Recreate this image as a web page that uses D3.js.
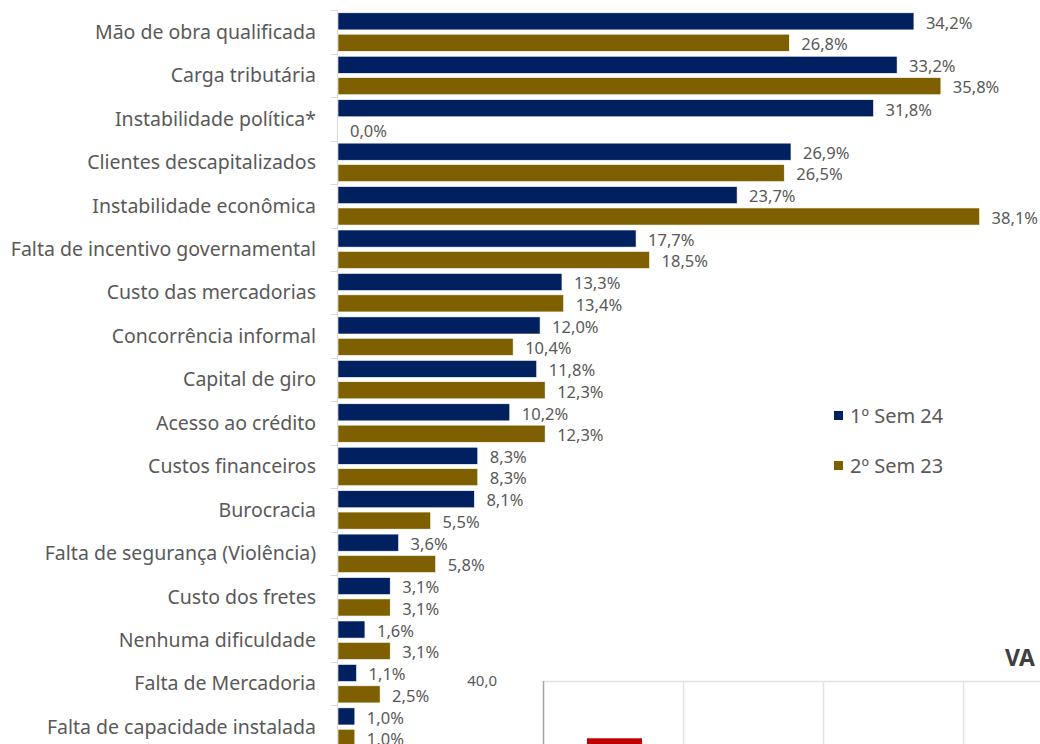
<!DOCTYPE html>
<html>
<head>
<meta charset="utf-8">
<script src="https://cdn.jsdelivr.net/npm/d3@7"></script>
<style>
  body { margin: 0; background: #fff; }
  svg { display: block; font-family: "Noto Sans", sans-serif; }
</style>
</head>
<body>
<svg id="chart" width="1040" height="744"></svg>
<script>
// categorias e series (pesquisa, % de respostas)
const categories = [
  "Mão de obra qualificada", "Carga tributária", "Instabilidade política*",
  "Clientes descapitalizados", "Instabilidade econômica", "Falta de incentivo governamental",
  "Custo das mercadorias", "Concorrência informal", "Capital de giro", "Acesso ao crédito",
  "Custos financeiros", "Burocracia", "Falta de segurança (Violência)", "Custo dos fretes",
  "Nenhuma dificuldade", "Falta de Mercadoria", "Falta de capacidade instalada"
];
const sem1_24 = [34.2, 33.2, 31.8, 26.9, 23.7, 17.7, 13.3, 12.0, 11.8, 10.2, 8.3, 8.1, 3.6, 3.1, 1.6, 1.1, 1.0];
const sem2_23 = [26.8, 35.8, 0.0, 26.5, 38.1, 18.5, 13.4, 10.4, 12.3, 12.3, 8.3, 5.5, 5.8, 3.1, 3.1, 2.5, 1.0];
const seriesNames = ["1º Sem 24", "2º Sem 23"];
const seriesColors = ["#002060", "#7F6000"];

// grafico "VA..." cortado no canto inferior direito
const vaTitle = "VA";
const vaTicks = [40, 30];
const vaCols = ["c1", "c2", "c3", "c4"];
const vaValues = [31.7];

const svg = d3.select("#chart");
const fmt = v => v.toFixed(1).replace(".", ",");

const y = d3.scaleBand().domain(categories).range([10.3, 748.8]);
const ySub = d3.scaleBand().domain([0, 1]).range([2.5, 41]).paddingInner(0.2);
const x = d3.scaleLinear().domain([0, 40]).range([338, 1011.6]);

// eixo vertical com marcas
svg.append("line")
  .attr("x1", 337.5).attr("x2", 337.5)
  .attr("y1", y.range()[0]).attr("y2", y.range()[1])
  .attr("stroke", "#d9d9d9");
svg.selectAll("line.tick")
  .data(d3.range(categories.length + 1))
  .join("line")
  .attr("class", "tick")
  .attr("x1", 331).attr("x2", 337.5)
  .attr("y1", i => Math.round(y.range()[0] + i * y.step()) + 0.5)
  .attr("y2", i => Math.round(y.range()[0] + i * y.step()) + 0.5)
  .attr("stroke", "#d9d9d9");

svg.selectAll("text.cat")
  .data(categories)
  .join("text")
  .attr("class", "cat")
  .attr("x", 316)
  .attr("y", d => y(d) + y.bandwidth() / 2)
  .attr("dy", "0.35em")
  .attr("text-anchor", "end")
  .attr("fill", "#595959")
  .style("font-size", "19.5px")
  .text(d => d);

[sem1_24, sem2_23].forEach(function(vals, s) {
  const g = svg.append("g");
  g.selectAll("rect")
    .data(vals)
    .join("rect")
    .attr("x", x(0))
    .attr("y", (v, i) => y(categories[i]) + ySub(s))
    .attr("width", v => x(v) - x(0))
    .attr("height", ySub.bandwidth())
    .attr("fill", seriesColors[s])
    .attr("stroke", "#fff")
    .attr("stroke-width", 0.6);
  g.selectAll("text")
    .data(vals)
    .join("text")
    .attr("x", v => x(v) + 12)
    .attr("y", (v, i) => y(categories[i]) + ySub(s) + ySub.bandwidth() / 2 + 1.5)
    .attr("dy", "0.35em")
    .attr("fill", "#595959")
    .style("font-size", "16.5px")
    .text(v => fmt(v) + "%");
});

// legenda
const legend = svg.append("g").attr("transform", "translate(834,411)");
seriesNames.forEach(function(name, i) {
  legend.append("rect")
    .attr("x", 0).attr("y", i * 50)
    .attr("width", 9).attr("height", 9)
    .attr("fill", seriesColors[i]);
  legend.append("text")
    .attr("x", 16).attr("y", i * 50 + 5)
    .attr("dy", "0.35em")
    .attr("fill", "#595959")
    .style("font-size", "20px")
    .text(name);
});

// grafico parcial no canto
const vy = d3.scaleLinear().domain([30, 40]).range([750, 681]);
const vx = d3.scaleBand().domain(vaCols).range([543.5, 1103.5]);

svg.append("text")
  .attr("x", 1005).attr("y", 666)
  .attr("fill", "#404040")
  .style("font-size", "23px")
  .style("font-weight", "bold")
  .text(vaTitle);

svg.append("line")
  .attr("x1", 543.5).attr("x2", 1040)
  .attr("y1", vy(40) + 0.5).attr("y2", vy(40) + 0.5)
  .attr("stroke", "#e3e3e3").attr("stroke-width", 1.5);
svg.selectAll("line.vgrid")
  .data(vaCols.slice(1))
  .join("line")
  .attr("class", "vgrid")
  .attr("x1", d => vx(d)).attr("x2", d => vx(d))
  .attr("y1", vy(40)).attr("y2", 744)
  .attr("stroke", "#e3e3e3").attr("stroke-width", 1.5);

svg.selectAll("rect.va")
  .data(vaValues)
  .join("rect")
  .attr("class", "va")
  .attr("x", (v, i) => vx(vaCols[i]) + 43.5)
  .attr("width", 55)
  .attr("y", v => vy(v))
  .attr("height", v => 760 - vy(v))
  .attr("fill", "#C00000");

svg.append("line")
  .attr("x1", 543.5).attr("x2", 543.5)
  .attr("y1", vy(40)).attr("y2", 744)
  .attr("stroke", "#a6a6a6").attr("stroke-width", 1.5);

svg.selectAll("text.vtick")
  .data(vaTicks)
  .join("text")
  .attr("class", "vtick")
  .attr("x", 497)
  .attr("y", d => vy(d))
  .attr("dy", "0.35em")
  .attr("text-anchor", "end")
  .attr("fill", "#595959")
  .style("font-size", "15px")
  .text(d => fmt(d));
</script>
</body>
</html>
